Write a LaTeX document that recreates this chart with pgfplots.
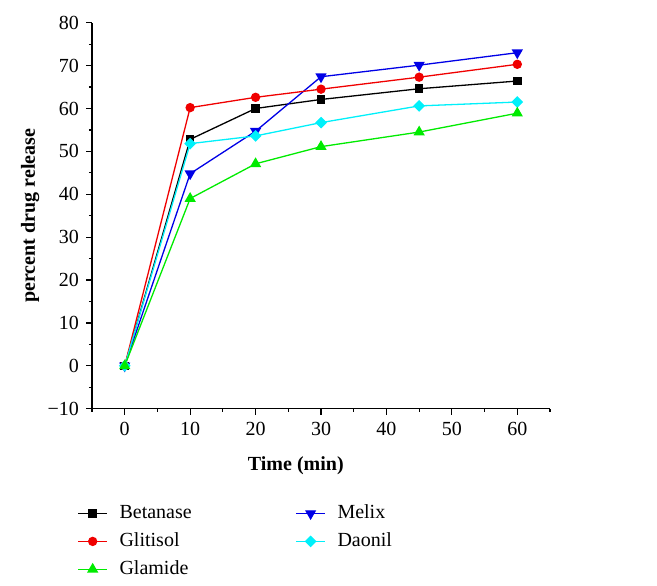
\documentclass[border=0pt]{standalone}
\usepackage{fontspec}
\setmainfont{Liberation Serif}
\usepackage{pgfplots}
\pgfplotsset{compat=1.18}
\definecolor{mycyan}{RGB}{0,240,250}
\definecolor{mygreen}{RGB}{0,235,0}
\definecolor{myblue}{RGB}{0,0,230}
\definecolor{myred}{RGB}{240,0,0}
\begin{document}
\begin{tikzpicture}
\fontsize{10}{12}\selectfont
\begin{axis}[
  scale only axis, width=229pt, height=193pt,
  clip=false,
  xmin=-5, xmax=65, ymin=-10, ymax=80,
  axis x line=bottom, axis y line=left,
  axis line style={-, line width=0.6pt},
  tick align=outside,
  major tick length=3pt, minor tick length=1.6pt,
  tick style={line width=0.6pt, black},
  xtick={0,10,20,30,40,50,60},
  minor xtick={-5,5,15,25,35,45,55,65},
  ytick={-10,0,10,20,30,40,50,60,70,80},
  yticklabels={−10,0,10,20,30,40,50,60,70,80},
  minor ytick={-5,5,15,25,35,45,55,65,75},
  /pgf/number format/assume math mode=true,
  ticklabel style={font=\fontsize{10}{12}\selectfont},
  xlabel={\textbf{Time (min)}},
  ylabel={\textbf{percent drug release}},
  xlabel style={at={(axis description cs:0.445,-0.148)}, anchor=center},
  ylabel style={at={(axis description cs:-0.135,0.5)}, anchor=center},
  legend columns=2,
  legend cell align=left,
  legend style={draw=none, fill=none, at={(axis description cs:-0.045,-0.228)}, anchor=north west,
    font=\fontsize{10}{12}\selectfont, row sep=1.5pt,
    /tikz/every odd column/.append style={column sep=4pt},
    /tikz/every even column/.append style={column sep=50pt}},
  legend image code/.code={\draw[mark repeat=2, mark phase=2, #1] plot coordinates {(0cm,0cm) (0.25cm,0cm) (0.5cm,0cm)};},
  every axis plot/.append style={line width=0.65pt},
]
\addplot[black, mark=square*, mark size=1.8pt] coordinates {(0,0) (10,52.8) (20,60.0) (30,62.1) (45,64.6) (60,66.4)};
\addlegendentry{Betanase}
\addplot[myblue, mark=triangle*, mark size=2.6pt, mark options={rotate=180}] coordinates {(0,0) (10,44.8) (20,54.7) (30,67.4) (45,70.1) (60,73.0)};
\addlegendentry{Melix}
\addplot[myred, mark=*, mark size=2pt] coordinates {(0,0) (10,60.2) (20,62.6) (30,64.5) (45,67.3) (60,70.3)};
\addlegendentry{Glitisol}
\addplot[mycyan, mark=square*, mark size=1.75pt, mark options={rotate=45}] coordinates {(0,0) (10,51.8) (20,53.6) (30,56.7) (45,60.6) (60,61.5)};
\addlegendentry{Daonil}
\addplot[mygreen, mark=triangle*, mark size=2.6pt] coordinates {(0,0) (10,39.0) (20,47.1) (30,51.1) (45,54.5) (60,58.9)};
\addlegendentry{Glamide}
\path (axis description cs:-0.2009,-0.458) rectangle (axis description cs:1.2336,1.0588);
\end{axis}
\end{tikzpicture}
\end{document}
